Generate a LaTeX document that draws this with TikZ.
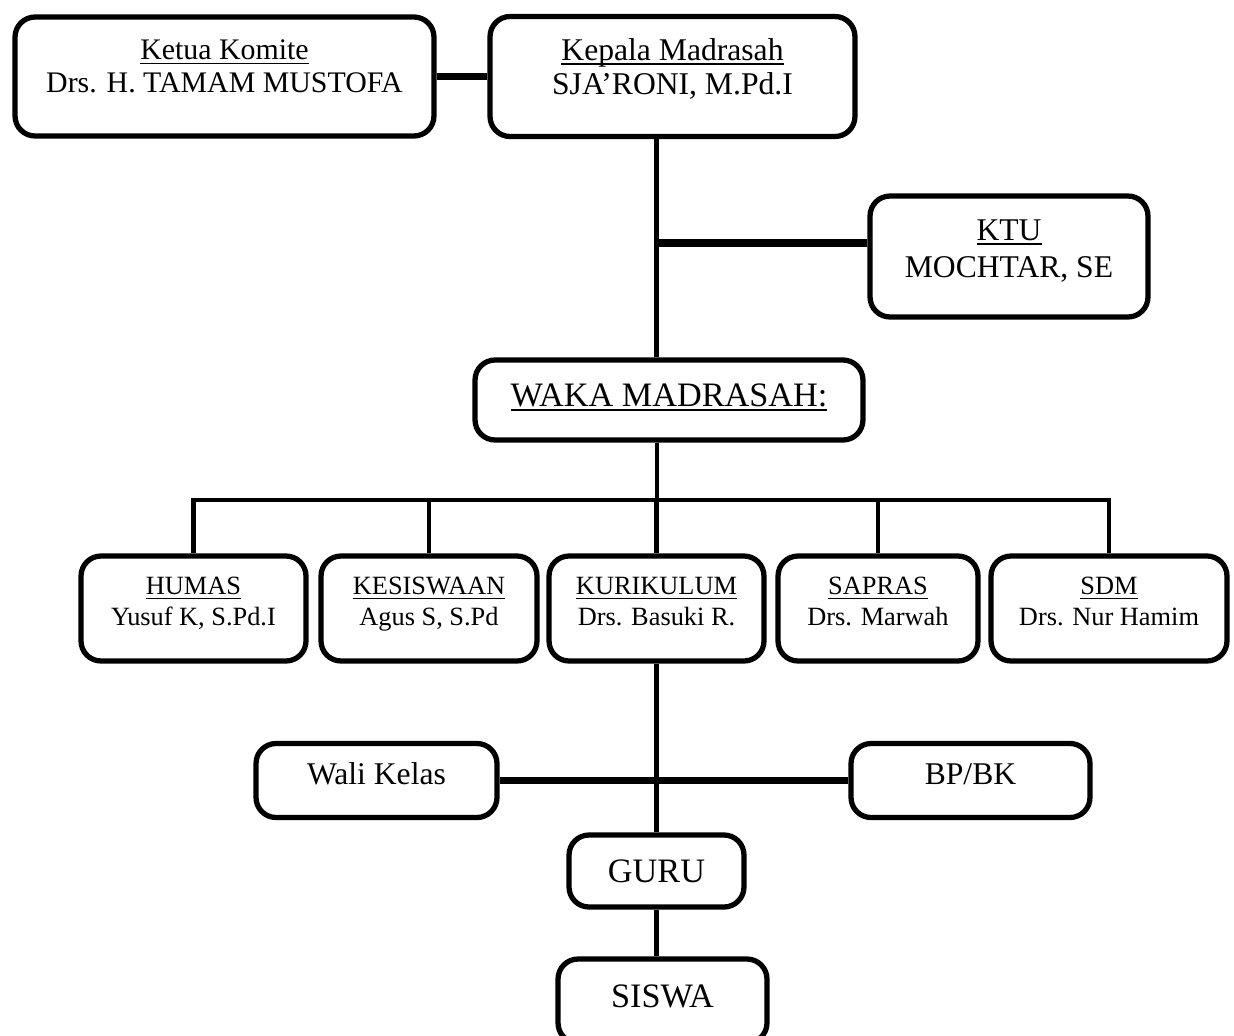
\documentclass[tikz,border=0pt]{standalone}
\usepackage{fontspec}
\setmainfont{Liberation Serif}
\newcommand{\uln}[1]{\leavevmode\setbox0=\hbox{#1}\rlap{\rule[-2.5pt]{\wd0}{0.8pt}}\box0}
\begin{document}
\begin{tikzpicture}[x=0.02cm,y=-0.02cm]
\tikzset{
  orgbox/.style={draw, line width=3pt, rounded corners=0.4cm, align=center, inner sep=0pt},
  drop/.style={execute at end node={\rule[-#1]{0pt}{0pt}}},
  link/.style={line width=2.5pt},
  hlink/.style={line width=4.5pt},
  unitbox/.style={orgbox, minimum height=2.1cm, drop=0.28cm, font=\fontsize{15}{17.6}\selectfont},
  sidebox/.style={orgbox, minimum height=1.48cm, text height=0.45cm, text depth=0.3cm, font=\fontsize{18}{20}\selectfont}
}
\useasboundingbox (0,0) rectangle (1234,1035);
% pimpinan
\node[orgbox, minimum width=8.38cm, minimum height=2.38cm, drop=0.4cm, font=\fontsize{17}{18.8}\selectfont] (ketua) at (224.5,76.5) {\uln{Ketua Komite}\\Drs. H. TAMAM MUSTOFA};
\node[orgbox, minimum width=7.3cm, minimum height=2.4cm, drop=0.4cm, font=\fontsize{18}{19.6}\selectfont] (kepala) at (672.5,76.5) {\uln{Kepala Madrasah}\\SJA'RONI, M.Pd.I};
\node[orgbox, minimum width=5.56cm, minimum height=2.42cm, drop=0.32cm, font=\fontsize{18}{21}\selectfont] (ktu) at (1009,256.5) {\uln{KTU}\\MOCHTAR, SE};
\node[orgbox, minimum width=7.76cm, minimum height=1.6cm, drop=0.2cm, font=\fontsize{19.5}{22}\selectfont] (waka) at (669,400) {\uln{WAKA MADRASAH:}};
% waka
\node[unitbox, minimum width=4.5cm]  (humas)     at (193.5,608.5) {\uln{HUMAS}\\Yusuf K, S.Pd.I};
\node[unitbox, minimum width=4.32cm] (kesiswaan) at (429,608.5)   {\uln{KESISWAAN}\\Agus S, S.Pd};
\node[unitbox, minimum width=4.3cm]  (kurikulum) at (656.5,608.5) {\uln{KURIKULUM}\\Drs. Basuki R.};
\node[unitbox, minimum width=4.0cm]  (sapras)    at (878,608.5)   {\uln{SAPRAS}\\Drs. Marwah};
\node[unitbox, minimum width=4.72cm] (sdm)       at (1109,608.5)  {\uln{SDM}\\Drs. Nur Hamim};
% bawah
\node[sidebox, minimum width=4.82cm] (wali) at (376.5,780.5) {Wali Kelas};
\node[sidebox, minimum width=4.78cm] (bp)   at (970.5,780.5) {BP/BK};
\node[orgbox, minimum width=3.5cm, minimum height=1.44cm, font=\fontsize{19.5}{22}\selectfont] (guru) at (656.5,871) {GURU};
\node[orgbox, minimum width=4.18cm, minimum height=1.68cm, drop=0.2cm, font=\fontsize{19.5}{22}\selectfont] (siswa) at (662.5,1001) {SISWA};
% garis
\draw[hlink] (ketua.east) -- (kepala.west);
\draw[link] (kepala.south -| guru) -- (waka.north -| guru);
\coordinate (ktuj) at (657,243);
\draw[hlink] (ktuj) -- (ktuj -| ktu.west);
\coordinate (bus) at (657,500);
\draw[link] (waka.south -| bus) -- (bus);
\draw[link, line cap=rect] (bus -| humas) -- (bus -| sdm);
\foreach \n in {humas,kesiswaan,kurikulum,sapras,sdm}
  \draw[link] (bus -| \n) -- (\n.north);
\draw[link] (kurikulum.south) -- (guru.north);
\draw[hlink] (wali.east) -- (bp.west);
\draw[link] (guru.south) -- (guru.south |- siswa.north);
\end{tikzpicture}
\end{document}
